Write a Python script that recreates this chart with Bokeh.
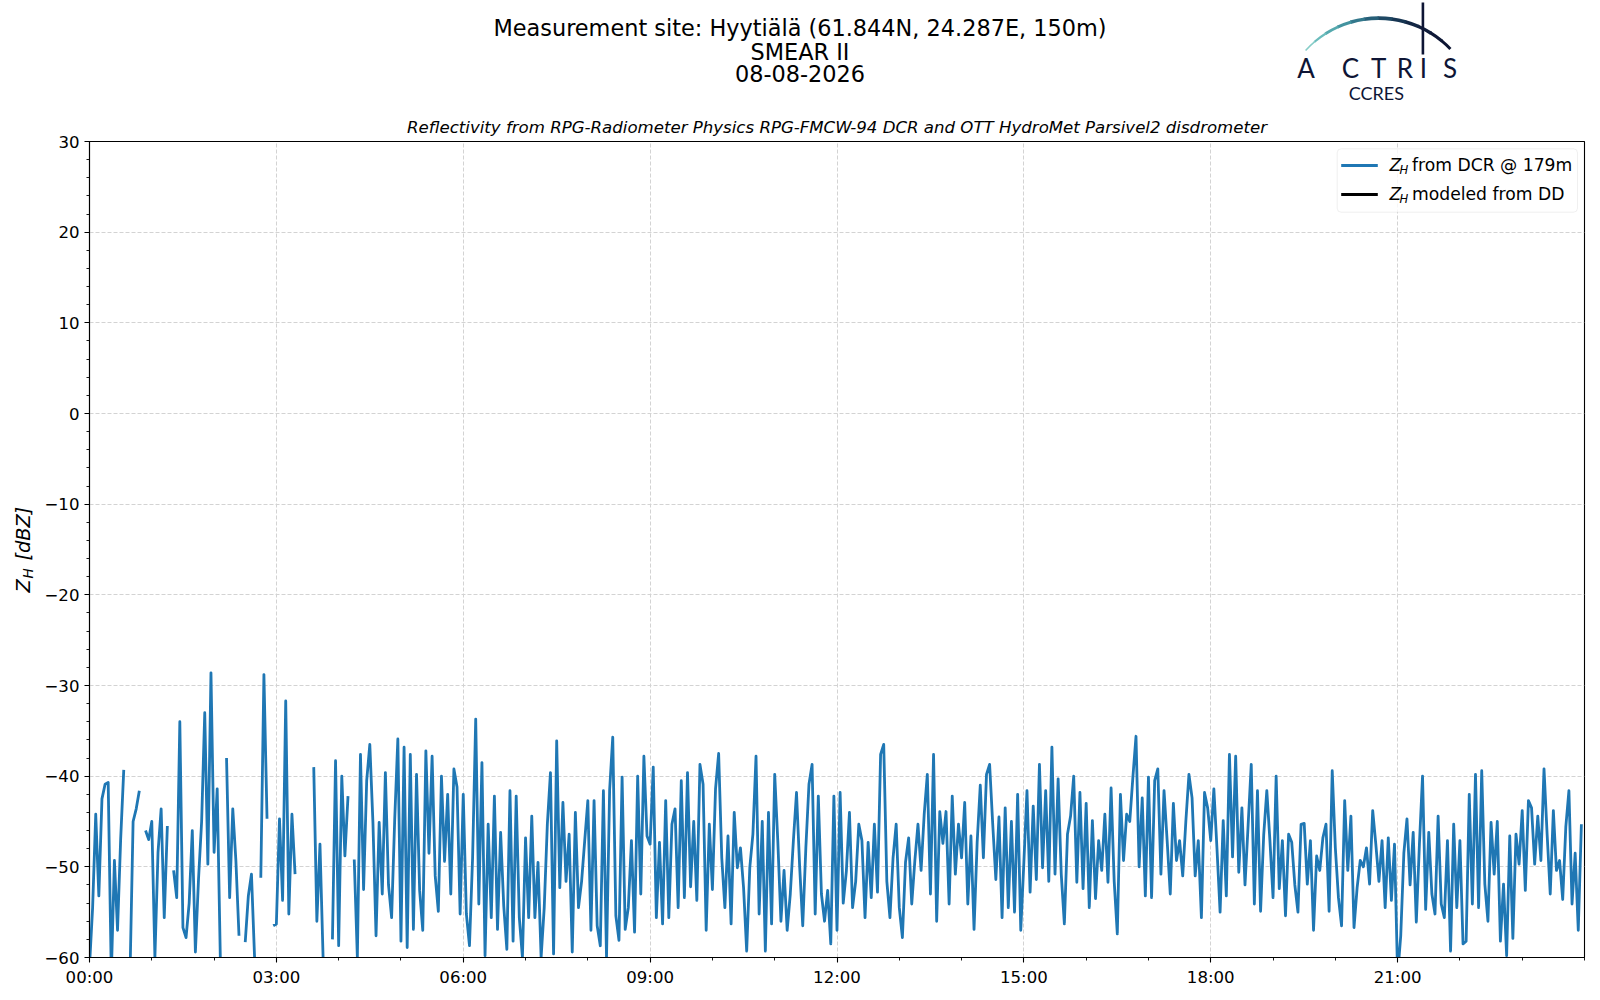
import math
import numpy as np
from bokeh.plotting import figure
from bokeh.layouts import column
from bokeh.models import Range1d, FixedTicker, Label, BoxAnnotation, ColumnDataSource, Title
from bokeh.core.properties import value
from bokeh.embed import file_html
from bokeh.resources import INLINE

nan = float("nan")

# ---------------- data (Z_H from DCR, dBZ, one value every 3 minutes) ----------------
STEP_MIN = 3
dcr_00_03 = [-61, -54.5, -44.2, -53.2, -42.5, -40.9, -40.7, -62, -49.3, -57,
             -47, -39.3, nan, -62, -45, -43.6, -41.6, nan, -46, -47,
             -45, -60, -48.4, -43.6, -55.6, -45.5, nan, -50.4, -53.4, -34,
             -56.7, -57.8, -54, -46, -59.4, -51.4, -45, -33, -49.7, -28.6,
             -48.4, -41.4, -60, nan, -38, -53.4, -43.6, -49.3, -57.6, nan,
             -58.3, -53.2, -50.8, -60, nan, -51.2, -28.8, -44.7, nan, -56.5]
dcr_03_06 = [-56.3, -44.7, -53.7, -31.7, -55.2, -44.2, -50.8, nan, nan, nan,
             nan, nan, -39, -56, -47.5, -60, nan, nan, -58, -38.3,
             -58.7, -40, -48.8, -42.2, nan, -49.2, -60, -37.6, -52.5, -40.5,
             -36.5, -45.1, -57.6, -45.1, -53, -39.6, -52, -55.6, -44.7, -35.9,
             -58.2, -36.8, -58.9, -37.6, -56.9, -39.8, -52.6, -57, -37.2, -48.5,
             -37.8, -51, -54.9, -40, -49.4, -42, -53, -39.2, -41.2, -55.2]
dcr_06_09 = [-42, -55.2, -58.7, -49, -33.7, -54.1, -38.5, -59.8, -45.3, -55.6,
             -42.2, -56.9, -46.2, -54.3, -59.1, -41.6, -58.2, -42.2, -55.6, -60,
             -46.8, -55.6, -44.4, -55.6, -49.5, -60, -54.5, -45.3, -39.6, -59.6,
             -36.1, -52.3, -42.9, -51.6, -46.4, -59.4, -44, -54.5, -51.6, -47.1,
             -42.7, -57, -42.7, -56.5, -58.7, -41.6, -60, -41.5, -35.7, -55.4,
             -58.1, -40.1, -56.9, -54.5, -47.1, -57.2, -40, -53, -37.8, -46.6]
dcr_09_12 = [-47.5, -39, -55.6, -47.3, -56.3, -42.7, -55.6, -45.3, -43.6, -54.5,
             -40.5, -53.4, -39.6, -52.2, -45, -53.7, -38.7, -40.9, -57, -45.3,
             -52.5, -41.4, -37.5, -49, -54.5, -46.6, -56.3, -44, -50.1, -47.9,
             -52.3, -59.3, -50.1, -46.4, -37.8, -55.2, -45, -59.3, -44, -56.3,
             -39.8, -47.2, -56, -50.4, -57, -53, -47.1, -41.8, -49.9, -56.5,
             -47.9, -40.9, -38.7, -55.2, -42.2, -53, -56, -52.6, -58.5, -42.2]
dcr_12_15 = [-57, -41.8, -54, -50.5, -44, -54.5, -51.6, -45.3, -47.1, -55.6,
             -47.3, -53.4, -45.3, -52.8, -37.6, -36.5, -51.6, -55.6, -49, -45.3,
             -54.5, -57.8, -49.5, -46.8, -54.1, -49.3, -45.3, -50.4, -44.2, -39.8,
             -53, -37.6, -56, -43.9, -47.4, -43.9, -54.1, -42.2, -50.8, -45.3,
             -49, -42.9, -54.1, -46.6, -56.9, -47.3, -41, -49, -39.8, -38.7,
             -45.3, -51.4, -44.5, -55.6, -43.5, -54.5, -45, -55, -42, -57]
dcr_15_18 = [-49.5, -41.6, -52.8, -43.3, -51.4, -38.7, -50.1, -41.6, -51.6, -36.8,
             -50.8, -40.3, -50.8, -56.3, -46.4, -44.4, -40, -51.7, -41.8, -52.4,
             -43, -54.5, -44.9, -53.5, -47.1, -50.4, -44.2, -51.7, -41.3, -51.6,
             -57.4, -42, -49.3, -44.2, -45, -40.1, -35.6, -50, -42.4, -53.2,
             -40.1, -53.4, -40.5, -39.2, -50.8, -41.6, -47.1, -53, -43, -49.3,
             -47.1, -51, -45, -39.8, -42.4, -51, -47.1, -55.6, -41.8, -43.5]
dcr_18_21 = [-47.1, -41.4, -48, -55, -44.9, -53.2, -37.6, -48.9, -37.8, -50.6,
             -43.5, -52, -45.4, -38.7, -54.1, -41.6, -54.9, -46.5, -41.6, -47.1,
             -53.4, -40, -52.4, -47.1, -55.4, -46.4, -47.3, -52, -55, -45.3,
             -45.2, -51.9, -47.1, -57, -48.8, -50.4, -46.8, -45.3, -54.9, -39.4,
             -47.9, -53.4, -56.5, -42.7, -50.4, -44.4, -56.7, -52.3, -49.3, -50,
             -47.9, -51.9, -43.8, -47.5, -51.6, -47.1, -54.5, -46.8, -53.7, -47.5]
dcr_21_24 = [-62, -57.6, -48.5, -44.7, -52, -46.2, -56.1, -47.5, -40, -54.7,
             -46.2, -53, -55.2, -44.4, -54.1, -55.6, -47.1, -59.3, -45.3, -54.5,
             -47.1, -58.5, -58.2, -42, -54.1, -39.8, -54.5, -39.4, -51.9, -56,
             -45.1, -50.8, -45, -58.2, -51.9, -59.8, -46.6, -57.9, -46.4, -49.7,
             -43.8, -52.6, -42.7, -43.5, -49.7, -44.4, -49.3, -39.2, -46.4, -53,
             -43.8, -50.4, -49.3, -53.6, -45.6, -41.6, -54.1, -48.5, -57, -45.3]
zh_dd_model = []  # no disdrometer data on this day

x_tick_hours = [0, 3, 6, 9, 12, 15, 18, 21]
x_tick_labels = ["00:00", "03:00", "06:00", "09:00", "12:00", "15:00", "18:00", "21:00"]
y_ticks = [-60, -50, -40, -30, -20, -10, 0, 10, 20, 30]

title_lines = ["Measurement site: Hyytiälä (61.844N, 24.287E, 150m)", "SMEAR II", "08-08-2026"]
subtitle = "Reflectivity from RPG-Radiometer Physics RPG-FMCW-94 DCR and OTT HydroMet Parsivel2 disdrometer"
legend_texts = ["from DCR @ 179m", "modeled from DD"]

zh_dcr = (dcr_00_03 + dcr_03_06 + dcr_06_09 + dcr_09_12 +
          dcr_12_15 + dcr_15_18 + dcr_18_21 + dcr_21_24)
t_hours = np.arange(len(zh_dcr)) * STEP_MIN / 60.0

FONT = "DejaVu Sans"
NAVY = "#0e1535"
W = 1600
HEAD_H = 108
MAIN_H = 890
BL, BR = 89, 15  # frame borders (left / right)

# ---------------- header (titles + logo) ----------------
head = figure(width=W, height=HEAD_H, x_range=Range1d(BL, W - BR), y_range=Range1d(0, HEAD_H),
              x_axis_location=None, y_axis_location=None, toolbar_location=None,
              output_backend="svg", min_border=0, min_border_left=BL, min_border_right=BR,
              min_border_top=0, min_border_bottom=0,
              outline_line_color=None, title_location=None)
head.grid.visible = False
head.text(x=[800, 800, 800], y=[80.3, 57.0, 34.6], text=title_lines,
          text_font=value(FONT), text_font_size="22.4px", text_align="center",
          text_baseline="alphabetic", text_color="black")

# logo arc (gradient approximated by pieces)
arc_cx, arc_cy, arc_r = 1379.0, -8.6, 99.0
arc_deg = [43.5, 50, 58, 66, 74, 82, 90, 98, 106, 114, 122, 130, 137]
arc_col = ["#0d1533", "#0e1836", "#101d3b", "#132744", "#173552", "#1e4864",
           "#275f78", "#33788c", "#43939f", "#55a9ae", "#6bbcbc", "#86cdc8"]
arc_w = [3.0, 3.2, 3.4, 3.5, 3.6, 3.6, 3.6, 3.5, 3.2, 2.8, 2.2, 1.5]
for i in range(len(arc_col)):
    head.arc(x=arc_cx, y=arc_cy, radius=arc_r,
             start_angle=math.radians(arc_deg[i]), end_angle=math.radians(arc_deg[i + 1] + 0.6),
             line_color=arc_col[i], line_width=arc_w[i])
head.segment(x0=[1423.3], y0=[106], x1=[1423.3], y1=[54], line_color=NAVY, line_width=2.6)
logo_letters = ["A", "C", "T", "R", "I", "S"]
logo_x = [1306.3, 1350.8, 1379.0, 1405.3, 1423.7, 1450.5]
head.text(x=logo_x, y=[40.6] * 6, text=logo_letters, text_font=value("Lato"),
          text_font_size="26px", text_align="center", text_baseline="alphabetic",
          text_color=NAVY)
head.text(x=[1376.7], y=[15.4], text=["CCRES"], text_font=value("Lato"),
          text_font_size="18px", text_align="center", text_baseline="alphabetic",
          text_color=NAVY)

# ---------------- main chart ----------------
p = figure(width=W, height=MAIN_H, x_range=Range1d(0, 24), y_range=Range1d(-60, 30),
           toolbar_location=None, output_backend="svg", title_location=None,
           min_border_left=BL, min_border_right=BR, min_border_top=33, min_border_bottom=41)
p.outline_line_color = "black"
p.outline_line_width = 1.1
p.outline_line_alpha = 1.0

src = ColumnDataSource(dict(t=t_hours, z=zh_dcr))
p.line("t", "z", source=src, line_color="#1f77b4", line_width=2.8, line_join="round")
p.line(x=[], y=zh_dd_model, line_color="black", line_width=2.8)

p.xaxis.ticker = FixedTicker(ticks=x_tick_hours, minor_ticks=list(range(0, 25)))
p.xaxis.major_label_overrides = {h: s for h, s in zip(x_tick_hours, x_tick_labels)}
p.yaxis.ticker = FixedTicker(ticks=y_ticks, minor_ticks=list(range(-60, 31, 2)))
for ax in (p.xaxis, p.yaxis):
    ax.major_label_text_font = FONT
    ax.major_label_text_font_size = "16.6px"
    ax.major_label_text_color = "black"
    ax.axis_line_color = "black"
    ax.axis_line_width = 1.1
    ax.major_tick_line_color = "black"
    ax.major_tick_line_width = 1.1
    ax.minor_tick_line_color = "black"
    ax.minor_tick_line_width = 0.9
    ax.major_tick_out = 5
    ax.major_tick_in = 0
    ax.minor_tick_out = 3
    ax.minor_tick_in = 0
    ax.major_label_standoff = 5
p.grid.grid_line_color = "#d3d3d3"
p.grid.grid_line_dash = "4 2"
p.grid.grid_line_width = 1

# y-axis label  Z_H [dBZ] : axis label with a gap for the subscript H
p.yaxis.axis_label = "Z\u00a0\u00a0\u00a0[dBZ]"
p.yaxis.axis_label_text_font = FONT
p.yaxis.axis_label_text_font_size = "19.4px"
p.yaxis.axis_label_text_font_style = "italic"
p.yaxis.axis_label_text_color = "black"
p.yaxis.axis_label_standoff = 6
p.add_layout(Label(x=27.5, y=470.0, x_units="canvas", y_units="canvas", text="H", angle=math.pi / 2,
                   text_font=FONT, text_font_size="13.6px", text_font_style="italic",
                   text_align="left", text_baseline="alphabetic", text_color="black"), "right")

# subtitle (centred over the axes)
p.add_layout(Title(text=subtitle, align="center", text_font=FONT, text_font_size="16.6px",
                   text_font_style="italic", text_color="black", standoff=10), "above")

# legend (canvas coordinates inside the frame)
p.add_layout(BoxAnnotation(left=1336.7, right=1577, top=40.3, bottom=103.7,
                           left_units="canvas", right_units="canvas", top_units="canvas", bottom_units="canvas",
                           fill_color="white", fill_alpha=0.8, line_color="#cccccc", line_width=1,
                           border_radius=4))
leg_colors = ["#1f77b4", "black"]
leg_y = [57, 86]
for i in range(2):
    p.add_layout(BoxAnnotation(left=1340.7, right=1377.3, top=leg_y[i] - 1.4, bottom=leg_y[i] + 1.4,
                               left_units="canvas", right_units="canvas", top_units="canvas",
                               bottom_units="canvas", fill_color=leg_colors[i], fill_alpha=1.0,
                               line_color=None))
    base = leg_y[i] - 0.3
    p.add_layout(Label(x=1389.0, y=base, x_units="canvas", y_units="canvas", text="Z",
                       text_font=FONT, text_font_size="17px", text_font_style="italic",
                       text_baseline="alphabetic", text_color="black"))
    p.add_layout(Label(x=1399.0, y=base + 5.0, x_units="canvas", y_units="canvas", text="H",
                       text_font=FONT, text_font_size="11.6px", text_font_style="italic",
                       text_baseline="alphabetic", text_color="black"))
    p.add_layout(Label(x=1411.5, y=base, x_units="canvas", y_units="canvas", text=legend_texts[i],
                       text_font=FONT, text_font_size="17.2px",
                       text_baseline="alphabetic", text_color="black"))

layout = column(head, p, spacing=0)
open("out.html", "w").write(file_html(layout, INLINE))
